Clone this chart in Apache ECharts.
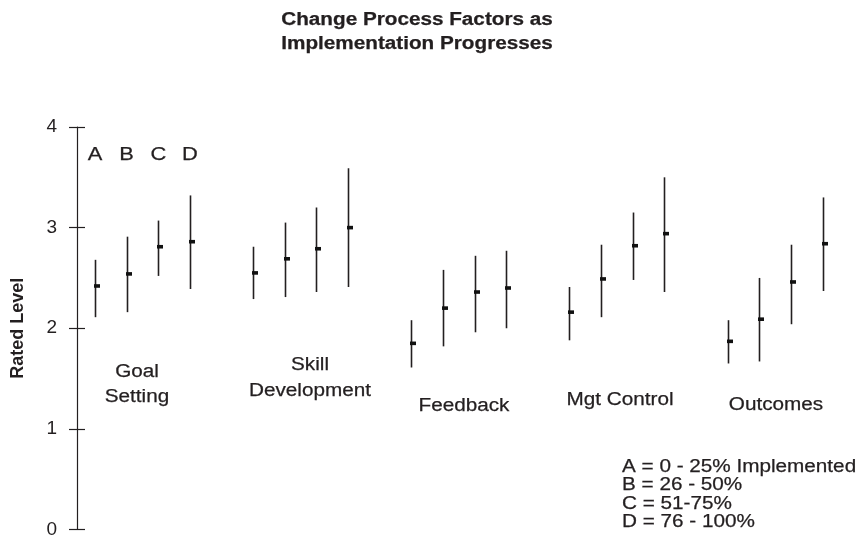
<!DOCTYPE html>
<html>
<head>
<meta charset="utf-8">
<script src="https://cdn.jsdelivr.net/npm/echarts@6/dist/echarts.min.js"></script>
<style>
  html, body { margin: 0; padding: 0; background: #fff; }
  #chart { width: 863px; height: 541px; }
</style>
</head>
<body>
<div id="chart"></div>
<script>
// Factor groups and implementation levels
const groups = ['Goal Setting', 'Skill Development', 'Feedback', 'Mgt Control', 'Outcomes'];
const levels = ['A', 'B', 'C', 'D'];

// Mean rated level per group, levels A..D
const means = [
  [2.42, 2.54, 2.81, 2.86],
  [2.55, 2.69, 2.79, 3.00],
  [1.85, 2.20, 2.36, 2.40],
  [2.16, 2.49, 2.82, 2.94],
  [1.87, 2.09, 2.46, 2.84]
];
// Upper end of each range
const highs = [
  [2.68, 2.91, 3.07, 3.32],
  [2.81, 3.05, 3.20, 3.59],
  [2.08, 2.58, 2.72, 2.77],
  [2.41, 2.83, 3.15, 3.50],
  [2.08, 2.50, 2.83, 3.30]
];
// Lower end of each range
const lows = [
  [2.11, 2.16, 2.52, 2.39],
  [2.29, 2.31, 2.36, 2.41],
  [1.61, 1.82, 1.96, 2.00],
  [1.88, 2.11, 2.48, 2.36],
  [1.65, 1.67, 2.04, 2.37]
];
const yTicks = [0, 1, 2, 3, 4];
const legendLines = ['A = 0 - 25% Implemented', 'B = 26 - 50%', 'C = 51-75%', 'D = 76 - 100%'];

// Each group takes five slots: four levels plus one empty gap
const SLOTS = 5;
const rows = [];
groups.forEach((g, gi) => {
  levels.forEach((lv, li) => {
    rows.push([gi * SLOTS + li, lows[gi][li], highs[gi][li], means[gi][li], g, lv]);
  });
});

const FONT = '"Liberation Sans", Arial, Helvetica, sans-serif';
const INK = '#231f20';
const SX = 1.15; // horizontal text widening

function txt(text, x, y, opts) {
  opts = opts || {};
  return {
    type: 'text', x: x, y: y, scaleX: SX, originX: 0, originY: 0,
    style: {
      text: text,
      font: (opts.bold ? 'bold ' : '') + (opts.size || 18) + 'px ' + FONT,
      fill: INK,
      stroke: INK,
      lineWidth: 0.25,
      textAlign: opts.align || 'center',
      textVerticalAlign: 'middle'
    }
  };
}

const chart = echarts.init(document.getElementById('chart'), null, { renderer: 'canvas' });

const graphics = [
  txt('Change Process Factors as', 417, 20, { bold: true }),
  txt('Implementation Progresses', 417, 44, { bold: true }),
  txt('Goal', 137, 372),
  txt('Setting', 137, 397),
  txt('Skill', 310, 365),
  txt('Development', 310, 391),
  txt('Feedback', 464, 406),
  txt('Mgt Control', 620, 400),
  txt('Outcomes', 776, 405)
];
legendLines.forEach((t, i) => graphics.push(txt(t, 622, 467 + i * 18.4, { align: 'left' })));
levels.forEach((lv, li) => graphics.push(txt(lv, 95 + li * 31.64, 155, { size: 19 })));

chart.setOption({
  animation: false,
  backgroundColor: '#ffffff',
  grid: {
    left: 77, right: 12, top: 127, bottom: 11.5,
    containLabel: false, outerBoundsMode: 'none'
  },
  xAxis: { type: 'value', min: -0.57, max: 23.9, show: false },
  yAxis: [
    {
      type: 'value', min: 0, max: 4, interval: 1, position: 'left',
      name: 'Rated Level', nameLocation: 'middle', nameGap: 50, nameRotate: 90,
      nameTextStyle: { fontFamily: FONT, fontWeight: 'bold', fontSize: 18, color: INK },
      axisLine: { show: true, onZero: false, lineStyle: { color: INK, width: 1.2 } },
      axisTick: { show: true, inside: false, length: 8, lineStyle: { color: INK, width: 1.2 } },
      axisLabel: {
        margin: 20, fontFamily: FONT, fontSize: 19, color: INK,
        formatter: v => (yTicks.indexOf(v) >= 0 ? String(v) : '')
      },
      splitLine: { show: false }
    },
    {
      type: 'value', min: 0, max: 4, interval: 1, position: 'left', offset: 0,
      axisLine: { show: false, onZero: false },
      axisTick: { show: true, inside: true, length: 8, lineStyle: { color: INK, width: 1.2 } },
      axisLabel: { show: false },
      splitLine: { show: false }
    }
  ],
  series: [
    {
      type: 'custom',
      data: rows,
      encode: { x: 0, y: [1, 2, 3] },
      renderItem: function (params, api) {
        const x = api.value(0);
        const lo = api.coord([x, api.value(1)]);
        const hi = api.coord([x, api.value(2)]);
        const mid = api.coord([x, api.value(3)]);
        const px = Math.round(lo[0]) + 0.5;
        return {
          type: 'group',
          children: [
            {
              type: 'line',
              shape: { x1: px, y1: hi[1], x2: px, y2: lo[1] },
              style: { stroke: INK, lineWidth: 1.6 }
            },
            {
              type: 'rect',
              shape: { x: px - 1.5, y: mid[1] - 1.8, width: 6, height: 3.6 },
              style: { fill: '#111' }
            }
          ]
        };
      }
    }
  ],
  graphic: graphics
});
</script>
</body>
</html>
